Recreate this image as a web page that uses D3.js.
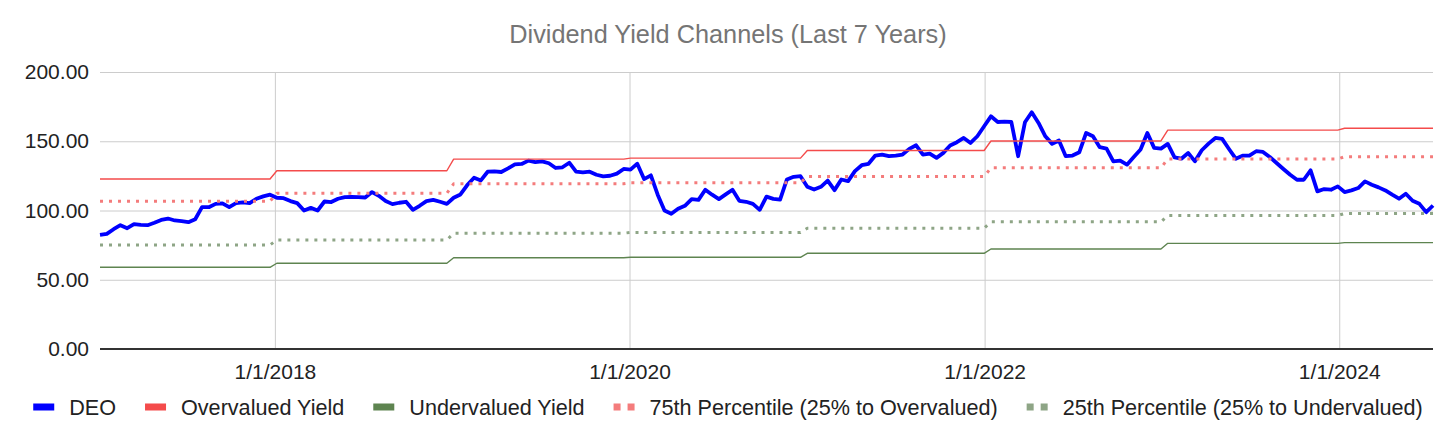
<!DOCTYPE html>
<html>
<head>
<meta charset="utf-8">
<script src="https://cdn.jsdelivr.net/npm/d3@7"></script>
<style>
  body { margin: 0; background: #fff; }
  svg { display: block; font-family: "Liberation Sans", Arial, sans-serif; }
</style>
</head>
<body>
<div id="chart"></div>
<script>
// biweekly DEO dividend-yield based values, first point 2017-01-06
const startDate = "2017-01-06";
const stepDays = 14;
const deo = [
  82.4, 83.1, 86.5, 89.4, 87.2, 90.1, 89.6, 89.4, 91.1, 93.2,
  94.2, 92.8, 92.3, 91.6, 93.7, 102.4, 102.4, 104.8, 105.1, 102.4,
  105.3, 105.8, 105.3, 108.5, 110.2, 111.4, 109.2, 108.9, 106.8, 105.3,
  100.0, 101.9, 100.0, 106.5, 106.1, 108.5, 109.7, 109.9, 109.7, 109.4,
  113.3, 110.6, 106.8, 104.6, 105.6, 106.3, 100.5, 103.4, 106.8, 107.7,
  106.3, 104.8, 109.2, 111.6, 118.4, 123.7, 121.7, 128.0, 128.3, 127.8,
  130.4, 133.3, 133.6, 136.0, 135.0, 135.5, 134.1, 130.7, 131.2, 134.5,
  128.0, 127.5, 128.0, 125.8, 124.6, 125.1, 126.6, 130.0, 129.5, 133.8,
  122.7, 125.4, 111.4, 100.0, 97.6, 101.2, 103.4, 108.2, 107.7, 115.0,
  111.4, 108.2, 111.6, 115.0, 107.0, 106.3, 104.8, 100.5, 110.0, 108.4,
  107.9, 122.4, 124.3, 124.8, 117.1, 115.1, 117.1, 121.6, 114.7, 122.4,
  121.2, 128.4, 132.7, 133.7, 139.7, 140.4, 139.2, 139.7, 140.4, 144.5,
  147.1, 140.4, 141.1, 138.0, 141.6, 146.9, 149.3, 152.4, 148.8, 153.6,
  160.8, 168.0, 163.9, 164.2, 163.9, 139.2, 163.7, 170.9, 163.2, 153.6,
  148.1, 150.5, 139.2, 139.7, 142.1, 156.0, 153.6, 145.7, 144.7, 135.5,
  136.0, 133.1, 138.6, 144.0, 156.0, 145.2, 144.7, 148.1, 138.4, 137.4,
  141.5, 135.5, 143.5, 148.3, 152.4, 151.7, 144.4, 137.4, 139.6, 139.6,
  142.8, 142.3, 138.6, 134.3, 130.0, 125.8, 122.2, 122.2, 129.0, 113.8,
  115.5, 115.0, 117.4, 113.3, 114.5, 116.2, 121.0, 118.6, 116.7, 114.5,
  111.4, 108.5, 112.1, 107.0, 104.8, 98.8, 103.6
];

// yearly channel levels
const years       = [2017, 2018, 2019, 2020, 2021, 2022, 2023, 2024];
const overvalued  = [122.7, 128.7, 137.1, 137.8, 143.3, 150.2, 158.0, 159.4];
const undervalued = [59.0, 61.9, 65.9, 66.2, 69.1, 72.2, 76.3, 76.8];
const pct75       = [106.7, 112.4, 119.3, 120.1, 124.5, 130.8, 137.2, 138.8];
const pct25       = [75.1, 78.7, 83.6, 84.2, 87.2, 91.8, 96.4, 97.8];

const yTicks = [0, 50, 100, 150, 200];
const xTicks = ["2018-01-01", "2020-01-01", "2022-01-01", "2024-01-01"];

const W = 1456, H = 440;
const margin = {top: 72, right: 23, bottom: 91, left: 100};
const width = W - margin.left - margin.right;
const height = H - margin.top - margin.bottom;

const parse = d3.utcParse("%Y-%m-%d");
const t0 = parse(startDate);
const dates = deo.map((_, i) => d3.utcDay.offset(t0, i * stepDays));
const byYear = arr => dates.map(d => arr[years.indexOf(d.getUTCFullYear())]);

const series = [
  {name: "DEO", values: deo, color: "#0000ff", width: 3.8, dash: null},
  {name: "Overvalued Yield", values: byYear(overvalued), color: "#f44b4b", width: 1.4, dash: null},
  {name: "Undervalued Yield", values: byYear(undervalued), color: "#5e8450", width: 1.4, dash: null},
  {name: "75th Percentile (25% to Overvalued)", values: byYear(pct75), color: "#f47c7c", width: 3, dash: "3,6"},
  {name: "25th Percentile (25% to Undervalued)", values: byYear(pct25), color: "#8ea586", width: 3, dash: "3,6"}
];

const svg = d3.select("#chart").append("svg")
    .attr("width", W)
    .attr("height", H);

svg.append("text")
    .attr("x", W / 2)
    .attr("y", 43)
    .attr("text-anchor", "middle")
    .style("font-size", "25.3px")
    .style("fill", "#757575")
    .text("Dividend Yield Channels (Last 7 Years)");

const chart = svg.append("g")
    .attr("transform", `translate(${margin.left},${margin.top})`);

const x = d3.scaleUtc()
    .domain(d3.extent(dates))
    .range([0, width]);

const y = d3.scaleLinear()
    .domain([0, 200])
    .range([height, 0]);

// horizontal grid + y labels
chart.append("g")
    .call(d3.axisLeft(y).tickValues(yTicks).tickFormat(d3.format(".2f"))
        .tickSize(-width).tickPadding(11))
    .call(g => g.select(".domain").remove())
    .call(g => g.selectAll(".tick line").attr("stroke", "#cccccc"))
    .call(g => g.selectAll(".tick text")
        .style("font-size", "21px").style("fill", "#222").style("font-family", "Liberation Sans, Arial"));

// vertical grid + x labels
chart.append("g")
    .attr("transform", `translate(0,${height})`)
    .call(d3.axisBottom(x).tickValues(xTicks.map(parse))
        .tickFormat(d3.utcFormat("%-m/%-d/%Y"))
        .tickSize(-height).tickPadding(15))
    .call(g => g.select(".domain").remove())
    .call(g => g.selectAll(".tick line").attr("stroke", "#cccccc"))
    .call(g => g.selectAll(".tick text")
        .style("font-size", "21px").style("fill", "#222").style("font-family", "Liberation Sans, Arial"));

// baseline
chart.append("line")
    .attr("x1", 0).attr("x2", width)
    .attr("y1", y(0)).attr("y2", y(0))
    .attr("stroke", "#333")
    .attr("stroke-width", 2);

const line = d3.line()
    .x((d, i) => x(dates[i]))
    .y(d => y(d));

chart.selectAll(".series")
    .data(series)
    .join("path")
    .attr("class", "series")
    .attr("d", s => line(s.values))
    .attr("fill", "none")
    .attr("stroke", s => s.color)
    .attr("stroke-width", s => s.width)
    .attr("stroke-dasharray", s => s.dash)
    .attr("stroke-linejoin", "round");

// legend
const legend = svg.append("g").attr("transform", "translate(0,407)");
const items = legend.selectAll("g")
    .data(series)
    .join("g");

items.each(function(s) {
  const g = d3.select(this);
  if (s.dash) {
    g.append("rect").attr("x", 0).attr("y", -3.5).attr("width", 7).attr("height", 7).attr("fill", s.color);
    g.append("rect").attr("x", 14).attr("y", -3.5).attr("width", 7).attr("height", 7).attr("fill", s.color);
  } else {
    g.append("rect").attr("x", 0).attr("y", -3.5).attr("width", 21).attr("height", 7).attr("fill", s.color);
  }
  g.append("text")
      .attr("x", 36)
      .attr("y", 7.5)
      .style("font-size", "21.6px")
      .style("fill", "#222")
      .text(s.name);
});

const widths = [];
items.each(function() { widths.push(36 + d3.select(this).select("text").node().getComputedTextLength()); });
const gap = 29;
const total = d3.sum(widths) + gap * (widths.length - 1);
let cx = (W - total) / 2;
items.attr("transform", (d, i) => {
  const t = `translate(${cx},0)`;
  cx += widths[i] + gap;
  return t;
});
</script>
</body>
</html>
